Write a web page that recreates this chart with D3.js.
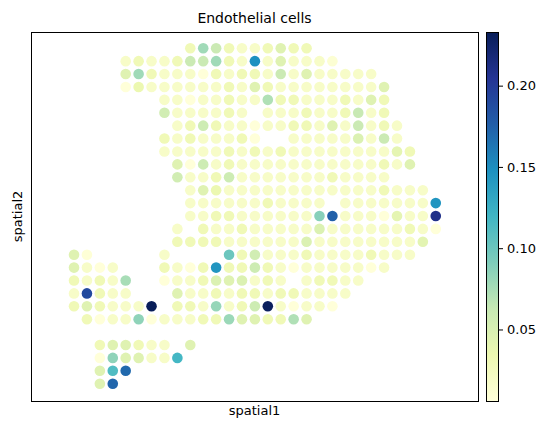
<!DOCTYPE html>
<html>
<head>
<meta charset="utf-8">
<script src="https://cdn.jsdelivr.net/npm/d3@7"></script>
<style>
  body { margin: 0; background: #fff; }
  text { font-family: "DejaVu Sans", sans-serif; fill: #000; }
</style>
</head>
<body>
<div id="chart"></div>
<script>
// Spot grid (array_row / array_col) and the expression score of each spot.
// Each row lists values from its first column; null means no spot there.
let spotRows = [0, 1, 2, 3, 4, 5, 6, 7, 8, 9, 10, 11, 12, 13, 14, 15, 16, 17, 18, 19, 20, 21, 23, 24, 25, 26];
let spotStartCols = [9, 4, 4, 4, 7, 7, 8, 7, 7, 8, 8, 9, 9, 9, 8, 8, 0, 0, 0, 0, 0, 1, 2, 2, 2, 2];
let spotValues = [
  [0.03, 0.078, 0.06, 0.03, 0.018, 0.018, 0.03, 0.045, 0.03, 0.03],
  [0.018, 0.03, 0.018, 0.018, 0.03, 0.06, 0.06, 0.078, 0.03, 0.018, 0.148, 0.018, 0.045, 0.018, 0.018, 0.018, 0.01],
  [0.045, 0.078, 0.03, 0.018, 0.018, 0.018, 0.006, 0.03, 0.018, 0.03, 0.03, 0.018, 0.06, 0.018, 0.045, 0.018, 0.018, 0.018, 0.018, 0.018],
  [0.006, 0.035, 0.018, 0.018, 0.018, 0.018, 0.018, 0.018, 0.03, 0.018, 0.045, 0.03, 0.018, 0.018, 0.018, 0.018, 0.018, 0.018, 0.018, 0.018, 0.045],
  [0.018, 0.018, 0.006, 0.018, 0.018, 0.03, 0.018, 0.018, 0.072, 0.03, 0.03, 0.018, 0.018, 0.018, 0.03, 0.018, 0.045, 0.03],
  [0.055, 0.018, 0.018, 0.018, 0.018, 0.03, 0.018, null, 0.018, 0.018, 0.018, 0.03, 0.018, 0.018, 0.03, 0.062, 0.018, 0.03],
  [0.018, 0.03, 0.058, 0.03, 0.018, 0.018, 0.006, 0.018, 0.018, 0.03, 0.03, 0.018, 0.045, 0.018, 0.06, 0.018, 0.03, 0.018],
  [0.03, 0.018, 0.03, 0.018, 0.018, 0.018, 0.03, 0.006, null, null, 0.018, 0.018, 0.018, 0.018, 0.018, 0.048, 0.018, 0.06, 0.018],
  [0.018, 0.018, 0.018, 0.018, 0.018, 0.03, 0.018, 0.03, 0.018, 0.03, 0.018, 0.018, 0.018, 0.018, 0.018, 0.018, 0.018, 0.018, 0.04, 0.03],
  [0.045, 0.006, 0.058, 0.018, 0.03, 0.018, 0.018, 0.018, 0.018, 0.018, 0.018, 0.018, 0.018, 0.018, 0.018, 0.018, 0.03, 0.018, 0.045],
  [0.055, 0.018, 0.018, 0.03, 0.058, 0.018, 0.018, 0.018, 0.018, 0.018, 0.018, 0.018, 0.03, 0.018, 0.018, 0.018, 0.018],
  [0.018, 0.045, 0.035, 0.018, 0.018, 0.018, 0.018, 0.018, 0.018, 0.018, 0.018, 0.018, 0.018, 0.018, 0.018, 0.03, 0.018, 0.018, 0.018],
  [0.018, 0.018, 0.018, 0.018, 0.018, 0.018, 0.03, 0.018, 0.018, 0.018, 0.018, null, 0.018, 0.018, 0.018, 0.018, 0.018, 0.018, 0.018, 0.145],
  [0.018, 0.018, 0.03, 0.03, 0.018, 0.018, 0.018, 0.018, 0.018, 0.018, 0.088, 0.175, 0.018, 0.018, 0.018, 0.006, 0.04, 0.018, 0.018, 0.21],
  [0.018, null, 0.03, 0.018, 0.018, 0.03, 0.018, 0.018, 0.018, 0.018, 0.018, 0.048, 0.018, 0.018, 0.018, 0.018, 0.018, 0.018, 0.03, 0.018, 0.006],
  [0.03, 0.03, 0.03, 0.03, 0.018, 0.018, 0.018, 0.018, 0.018, 0.018, 0.048, 0.018, 0.018, 0.018, 0.018, 0.018, 0.018, 0.018, 0.018, 0.042],
  [0.045, 0.008, null, null, null, null, null, 0.018, null, null, null, null, 0.1, 0.03, 0.055, 0.018, 0.018, 0.018, 0.03, 0.018, 0.018, 0.018, 0.018, 0.03, 0.018, 0.018, 0.018],
  [0.045, 0.018, 0.006, 0.018, null, null, null, 0.03, 0.018, 0.006, 0.03, 0.145, 0.03, 0.03, 0.058, 0.03, 0.018, 0.006, 0.018, 0.018, 0.018, 0.018, 0.018, 0.006, 0.018],
  [0.03, 0.018, 0.03, 0.018, 0.075, null, null, 0.006, 0.018, 0.018, 0.03, 0.048, 0.045, 0.048, 0.018, 0.03, 0.018, null, 0.018, 0.03, 0.03, 0.018, 0.018],
  [0.018, 0.19, 0.03, 0.018, 0.018, null, null, null, 0.045, 0.018, 0.018, 0.03, 0.018, 0.03, 0.03, 0.018, 0.03, 0.03, 0.018, 0.018, 0.018, 0.018],
  [0.03, 0.045, 0.03, 0.018, 0.018, 0.018, 0.233, null, 0.03, 0.03, 0.018, 0.082, 0.018, 0.03, 0.058, 0.23, 0.018, 0.006, 0.018, 0.018, 0.006],
  [0.03, 0.006, 0.018, 0.018, 0.085, 0.006, 0.018, 0.018, 0.018, 0.03, 0.03, 0.08, 0.045, 0.045, 0.03, 0.03, 0.072, 0.045],
  [0.03, 0.045, 0.045, 0.03, 0.018, 0.018, null, 0.045],
  [0.006, 0.085, 0.045, 0.045, 0.018, 0.018, 0.118],
  [0.045, 0.112, 0.17],
  [0.045, 0.172]
];
let colorbarTicks = [0.05, 0.10, 0.15, 0.20];

let spots = [];
spotRows.forEach(function (row, i) {
  spotValues[i].forEach(function (v, j) {
    if (v !== null) spots.push({ row: row, col: spotStartCols[i] + j, value: v });
  });
});

let width = 548, height = 431;
let plot = { left: 31, top: 32, right: 478, bottom: 401 };
let bar = { left: 486, width: 12 };

let svg = d3.select("#chart").append("svg")
  .attr("width", width)
  .attr("height", height);

let xScale = d3.scaleLinear().domain([-3.33, 31.27]).range([plot.left, plot.right]);
let yScale = d3.scaleLinear().domain([-1.26, 27.34]).range([plot.top, plot.bottom]);

let vmin = d3.min(spots, d => d.value);
let vmax = d3.max(spots, d => d.value);
let palette = d3.schemeYlGnBu[9];
let colorScale = d3.scaleLinear()
  .domain(palette.map((c, i) => vmin + (vmax - vmin) * i / (palette.length - 1)))
  .range(palette);

// spots, high values drawn last
svg.append("g")
  .selectAll("circle")
  .data(spots.slice().sort((a, b) => a.value - b.value))
  .enter()
  .append("circle")
  .attr("cx", d => xScale(d.col))
  .attr("cy", d => yScale(d.row))
  .attr("r", 5.3)
  .attr("fill", d => colorScale(d.value));

// axes frame
svg.append("rect")
  .attr("x", plot.left + 0.5)
  .attr("y", plot.top + 0.5)
  .attr("width", plot.right - plot.left)
  .attr("height", plot.bottom - plot.top)
  .attr("fill", "none")
  .attr("stroke", "#000")
  .attr("stroke-width", 1);

svg.append("text")
  .attr("x", (plot.left + plot.right) / 2)
  .attr("y", 23)
  .attr("text-anchor", "middle")
  .style("font-size", "14px")
  .text("Endothelial cells");

svg.append("text")
  .attr("x", (plot.left + plot.right) / 2)
  .attr("y", 415)
  .attr("text-anchor", "middle")
  .style("font-size", "13px")
  .text("spatial1");

svg.append("text")
  .attr("transform", "translate(22," + (plot.top + plot.bottom) / 2 + ") rotate(-90)")
  .attr("text-anchor", "middle")
  .style("font-size", "13px")
  .text("spatial2");

// colorbar
let grad = svg.append("defs").append("linearGradient")
  .attr("id", "cbar")
  .attr("x1", 0).attr("y1", 1).attr("x2", 0).attr("y2", 0);
grad.selectAll("stop")
  .data(palette)
  .enter()
  .append("stop")
  .attr("offset", (d, i) => i / (palette.length - 1))
  .attr("stop-color", d => d);

svg.append("rect")
  .attr("x", bar.left)
  .attr("y", plot.top)
  .attr("width", bar.width)
  .attr("height", plot.bottom - plot.top)
  .attr("fill", "url(#cbar)");

let barScale = d3.scaleLinear().domain([vmin, vmax]).range([plot.bottom, plot.top]);
let barAxis = svg.append("g")
  .attr("transform", "translate(" + (bar.left + bar.width + 0.5) + ",0)")
  .call(d3.axisRight(barScale).tickValues(colorbarTicks).tickFormat(d3.format(".2f")).tickSize(4.5).tickPadding(4));
barAxis.select(".domain").remove();
barAxis.selectAll("text").style("font-size", "13px").style("font-family", "DejaVu Sans");

svg.append("rect")
  .attr("x", bar.left + 0.5)
  .attr("y", plot.top + 0.5)
  .attr("width", bar.width)
  .attr("height", plot.bottom - plot.top)
  .attr("fill", "none")
  .attr("stroke", "#000")
  .attr("stroke-width", 1);
</script>
</body>
</html>
